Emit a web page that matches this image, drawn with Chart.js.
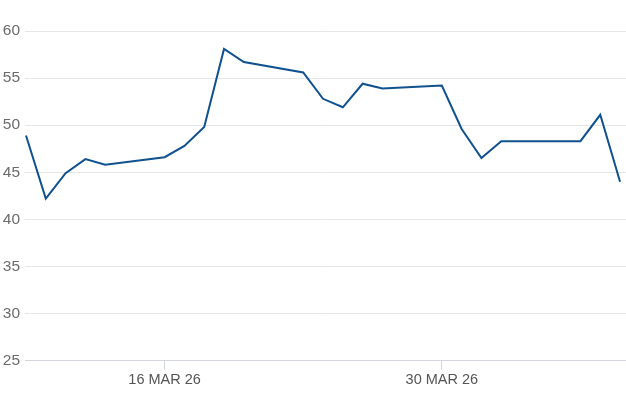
<!DOCTYPE html>
<html>
<head>
<meta charset="utf-8">
<script src="https://cdn.jsdelivr.net/npm/chart.js@4"></script>
<style>
  html, body { margin: 0; padding: 0; background: #fff; }
  #wrap { width: 626px; height: 417px; }
</style>
</head>
<body>
<div id="wrap"><canvas id="chart"></canvas></div>
<script>
// dates (trading days) and values
const dates = [
    '2026-03-09', '2026-03-10', '2026-03-11', '2026-03-12', '2026-03-13',
    '2026-03-16', '2026-03-17', '2026-03-18', '2026-03-19', '2026-03-20',
    '2026-03-23', '2026-03-24', '2026-03-25', '2026-03-26', '2026-03-27',
    '2026-03-30', '2026-03-31', '2026-04-01', '2026-04-02', '2026-04-06',
    '2026-04-07', '2026-04-08'
];
const values = [
    48.9, 42.2, 44.9, 46.4, 45.8,
    46.6, 47.8, 49.8, 58.1, 56.7,
    55.6, 52.8, 51.9, 54.4, 53.9,
    54.2, 49.6, 46.5, 48.3, 48.3,
    51.1, 44.0
];

// x axis tick labels
const tickDates = ['2026-03-16', '2026-03-30'];
const tickLabels = ['16 MAR 26', '30 MAR 26'];

// y axis range
const yMin = 25;
const yMax = 60;
const yStep = 5;

// day offset from first date
const startMs = Date.parse(dates[0]);
const dayOf = d => Math.round((Date.parse(d) - startMs) / 86400000);

const points = dates.map((d, i) => ({ x: dayOf(d), y: values[i] }));
const tickDays = tickDates.map(dayOf);

new Chart(document.getElementById('chart'), {
    type: 'line',
    data: {
        datasets: [{
            data: points,
            borderColor: '#10518f',
            borderWidth: 2,
            pointRadius: 0,
            tension: 0,
            fill: false
        }]
    },
    options: {
        responsive: true,
        maintainAspectRatio: false,
        animation: false,
        layout: { padding: { top: 31, right: 0, bottom: 26, left: 0 } },
        plugins: {
            legend: { display: false },
            tooltip: { enabled: false }
        },
        scales: {
            x: {
                type: 'linear',
                min: -0.05,
                max: 30.3,
                afterBuildTicks: axis => {
                    axis.ticks = tickDays.map(v => ({ value: v }));
                },
                ticks: {
                    autoSkip: false,
                    maxRotation: 0,
                    padding: 2,
                    color: '#555',
                    font: { family: 'Liberation Sans, Arial, sans-serif', size: 14.5 },
                    callback: v => tickLabels[tickDays.indexOf(v)] || ''
                },
                grid: {
                    drawOnChartArea: false,
                    drawTicks: true,
                    tickLength: 9,
                    color: '#d4d6de'
                },
                border: { display: true, color: '#d4d6de', width: 1 }
            },
            y: {
                min: yMin,
                max: yMax,
                afterFit: axis => { axis.width = 25; },
                ticks: {
                    stepSize: yStep,
                    padding: 5,
                    color: '#6b6b6b',
                    font: { family: 'Liberation Sans, Arial, sans-serif', size: 15.5 }
                },
                grid: {
                    drawTicks: false,
                    color: '#e6e6e6'
                },
                border: { display: false }
            }
        }
    }
});
</script>
</body>
</html>
